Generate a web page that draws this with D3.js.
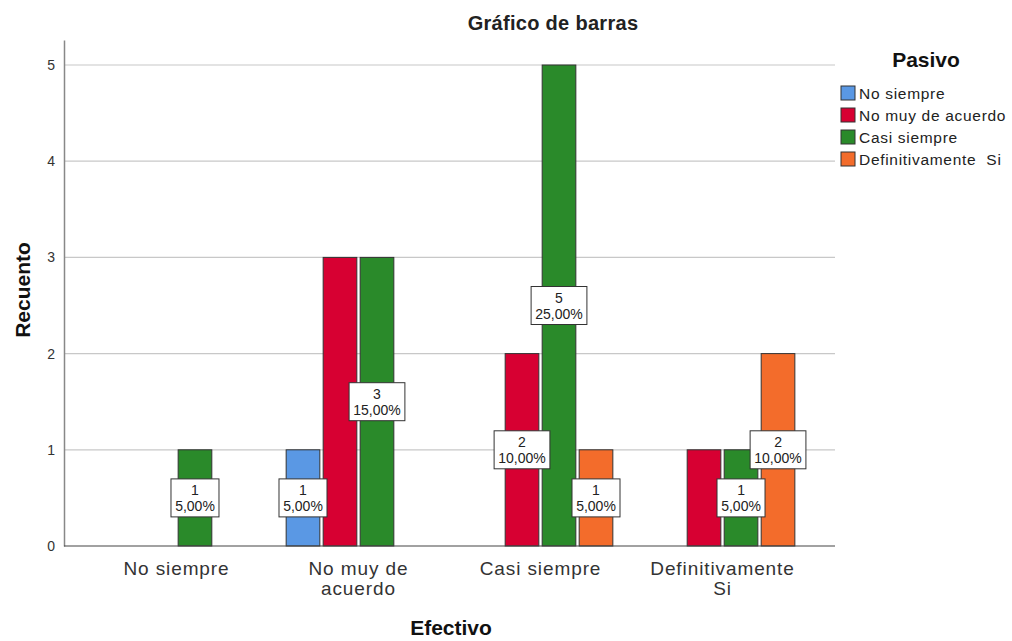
<!DOCTYPE html>
<html>
<head>
<meta charset="utf-8">
<script src="https://cdn.jsdelivr.net/npm/d3@7"></script>
<style>
  body { margin: 0; background: #fff; }
  text { font-family: "Liberation Sans", Arial, sans-serif; }
</style>
</head>
<body>
<div id="chart"></div>
<script>
// categories on the x axis (Efectivo) and series (Pasivo)
const categories = ["No siempre", "No muy de acuerdo", "Casi siempre", "Definitivamente Si"];
const categoryLines = [["No siempre"], ["No muy de", "acuerdo"], ["Casi siempre"], ["Definitivamente", "Si"]];
const series = ["No siempre", "No muy de acuerdo", "Casi siempre", "Definitivamente  Si"];
const colors = ["#5a98e4", "#d70032", "#2a8a2a", "#f36c2b"];

// counts, one array per series, in category order (0 = no bar)
const noSiempre = [0, 1, 0, 0];
const noMuyDeAcuerdo = [0, 3, 2, 1];
const casiSiempre = [1, 3, 5, 1];
const definitivamenteSi = [0, 0, 1, 2];
const counts = [noSiempre, noMuyDeAcuerdo, casiSiempre, definitivamenteSi];
const yTicks = [0, 1, 2, 3, 4, 5];

const total = d3.sum(counts.flat());
const fmtPct = v => d3.format(".2f")(v).replace(".", ",") + "%";

const W = 1012, H = 641;
const plot = { left: 64, right: 835, top: 40, bottom: 546 };

const svg = d3.select("#chart").append("svg")
  .attr("width", W).attr("height", H);

const x = d3.scalePoint().domain(categories).range([plot.left, plot.right]).padding(0.618);
const xs = d3.scaleBand().domain(series).range([-74, 74]).paddingInner(0.09).paddingOuter(0.045);
const y = d3.scaleLinear().domain([0, 5.26]).range([plot.bottom, plot.top]);

// gridlines
svg.append("g").selectAll("line").data(yTicks.filter(d => d > 0)).join("line")
  .attr("x1", plot.left).attr("x2", plot.right)
  .attr("y1", d => y(d)).attr("y2", d => y(d))
  .attr("stroke", "#c8c8c8").attr("stroke-width", 1.2);

// y axis
const yAxis = svg.append("g")
  .attr("transform", `translate(${plot.left},0)`)
  .call(d3.axisLeft(y).tickValues(yTicks).tickFormat(d3.format("d")).tickSize(0).tickPadding(9));
yAxis.select(".domain").attr("stroke", "#888").attr("stroke-width", 1.5);
yAxis.selectAll("text").attr("font-size", 14).attr("fill", "#333")
  .style("font-family", "'Liberation Sans', Arial, sans-serif");

// bars
const bars = [];
series.forEach((s, si) => {
  categories.forEach((c, ci) => {
    const v = counts[si][ci];
    if (v > 0) bars.push({ s, si, c, v });
  });
});

svg.append("g").selectAll("rect").data(bars).join("rect")
  .attr("x", d => x(d.c) + xs(d.s))
  .attr("y", d => y(d.v))
  .attr("width", xs.bandwidth())
  .attr("height", d => y(0) - y(d.v))
  .attr("fill", d => colors[d.si])
  .attr("stroke", "#333").attr("stroke-width", 1);

// x axis line
svg.append("line")
  .attr("x1", plot.left).attr("x2", plot.right)
  .attr("y1", plot.bottom).attr("y2", plot.bottom)
  .attr("stroke", "#444").attr("stroke-width", 1.2);

// x tick labels
const xl = svg.append("g").selectAll("text").data(categories).join("text")
  .attr("x", d => x(d))
  .attr("y", 575)
  .attr("text-anchor", "middle")
  .attr("font-size", 19)
  .attr("letter-spacing", 0.9)
  .attr("fill", "#333");
xl.selectAll("tspan").data((d, i) => categoryLines[i]).join("tspan")
  .attr("x", function () { return d3.select(this.parentNode).attr("x"); })
  .attr("dy", (d, i) => i === 0 ? 0 : 20)
  .text(d => d);

// value labels: later series win when boxes collide
const boxH = 38;
const kept = [];
const labelData = bars.slice().reverse().map(d => {
  const cx = x(d.c) + xs(d.s) + xs.bandwidth() / 2;
  const cy = y(d.v / 2);
  const pct = fmtPct(d.v / total * 100);
  const bw = pct.length * 7.8 + 9;
  return { ...d, cx, cy, pct, bw };
}).filter(d => {
  const hit = kept.some(k => Math.abs(k.cx - d.cx) < (k.bw + d.bw) / 2 && Math.abs(k.cy - d.cy) < boxH);
  if (!hit) kept.push(d);
  return !hit;
});

const lab = svg.append("g").selectAll("g").data(labelData).join("g")
  .attr("transform", d => `translate(${d.cx},${d.cy})`);
lab.append("rect")
  .attr("x", d => -d.bw / 2).attr("y", -boxH / 2)
  .attr("width", d => d.bw).attr("height", boxH)
  .attr("fill", "#fff").attr("stroke", "#333").attr("stroke-width", 1);
lab.append("text").attr("text-anchor", "middle").attr("y", -3)
  .attr("font-size", 14).attr("fill", "#222").text(d => d.v);
lab.append("text").attr("text-anchor", "middle").attr("y", 13)
  .attr("font-size", 14).attr("fill", "#222").text(d => d.pct);

// titles
svg.append("text").attr("x", 553).attr("y", 30).attr("text-anchor", "middle")
  .attr("font-size", 20).attr("font-weight", "bold").attr("letter-spacing", 0.3).attr("fill", "#222")
  .text("Gráfico de barras");
svg.append("text").attr("transform", "translate(30,290) rotate(-90)")
  .attr("text-anchor", "middle").attr("font-size", 21).attr("font-weight", "bold").attr("fill", "#111")
  .text("Recuento");
svg.append("text").attr("x", 451).attr("y", 635).attr("text-anchor", "middle")
  .attr("font-size", 21).attr("font-weight", "bold").attr("fill", "#111")
  .text("Efectivo");

// legend
const legend = svg.append("g").attr("transform", "translate(841,0)");
legend.append("text").attr("x", 85).attr("y", 67).attr("text-anchor", "middle")
  .attr("font-size", 21).attr("font-weight", "bold").attr("fill", "#111").text("Pasivo");
const li = legend.selectAll("g").data(series).join("g")
  .attr("transform", (d, i) => `translate(0,${86 + i * 22})`);
li.append("rect").attr("width", 14).attr("height", 14)
  .attr("fill", (d, i) => colors[i]).attr("stroke", "#333").attr("stroke-width", 1);
li.append("text").attr("x", 18).attr("y", 13)
  .attr("font-size", 15.5).attr("letter-spacing", 0.7).attr("fill", "#222")
  .style("white-space", "pre").text(d => d);
</script>
</body>
</html>
